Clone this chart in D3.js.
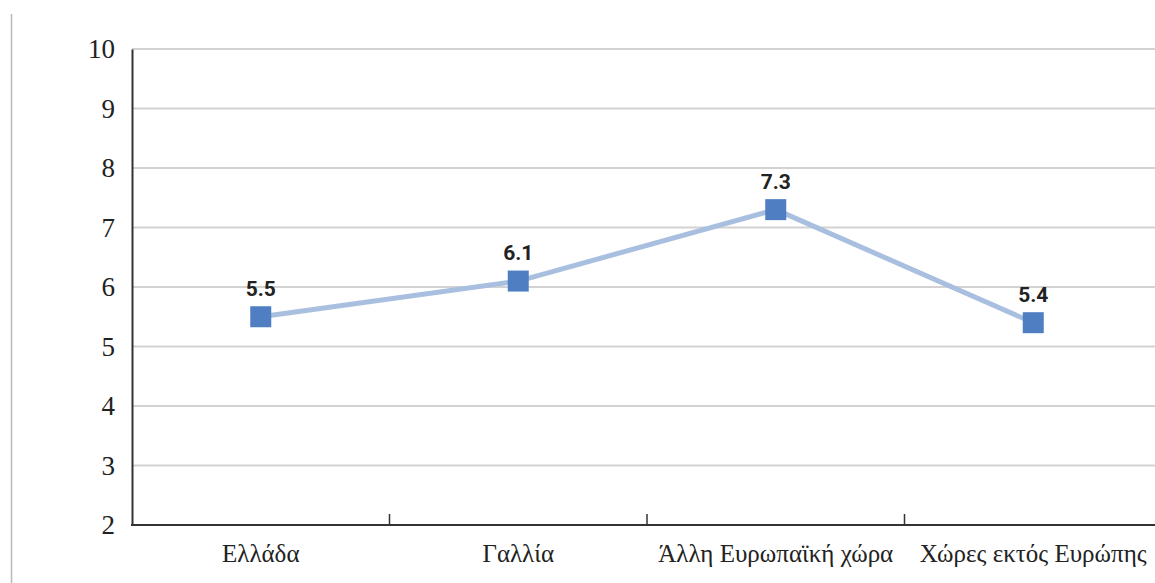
<!DOCTYPE html>
<html>
<head>
<meta charset="utf-8">
<script src="https://cdn.jsdelivr.net/npm/d3@7"></script>
<style>
  html, body { margin: 0; padding: 0; background: #fff; }
  svg { display: block; }
  .serif { font-family: "Liberation Serif", "Times New Roman", serif; }
  .val { font-family: Roboto, "Liberation Sans", sans-serif; font-weight: bold; }
</style>
</head>
<body>
<svg id="chart" width="1155" height="583"></svg>
<script>
// Chart data
const categories = ["Ελλάδα", "Γαλλία", "Άλλη Ευρωπαϊκή χώρα", "Χώρες εκτός Ευρώπης"];
const values = [5.5, 6.1, 7.3, 5.4];
const yTicks = [2, 3, 4, 5, 6, 7, 8, 9, 10];

(function () {
const svg = d3.select("#chart");
const W = 1155, H = 583;
const plotLeft = 132, plotTop = 49, plotBottom = 525;
const plotRight = plotLeft + 4 * 257.5;

// Page border on the left
svg.append("line")
  .attr("x1", 11.5).attr("x2", 11.5)
  .attr("y1", 14).attr("y2", H)
  .attr("stroke", "#b8b8b8").attr("stroke-width", 1.5);

const x = d3.scaleBand().domain(categories).range([plotLeft, plotRight]).padding(0);
const y = d3.scaleLinear().domain([2, 10]).range([plotBottom, plotTop]);

// Horizontal gridlines
svg.append("g")
  .selectAll("line")
  .data(yTicks.filter(t => t > 2))
  .join("line")
  .attr("x1", plotLeft).attr("x2", W)
  .attr("y1", d => y(d)).attr("y2", d => y(d))
  .attr("stroke", "#d2d2d2").attr("stroke-width", 2);

// Y axis
const yAxis = svg.append("g")
  .attr("transform", `translate(${plotLeft},0)`)
  .call(d3.axisLeft(y).tickValues(yTicks).tickSize(0).tickPadding(17));
yAxis.attr("font-family", null).attr("font-size", null);
yAxis.select(".domain").attr("stroke", "#333").attr("stroke-width", 2);
yAxis.selectAll("text")
  .attr("class", "serif")
  .style("font-size", "27px")
  .attr("fill", "#222");

// X axis: ticks at band boundaries, drawn upward
const xAxisG = svg.append("g").attr("transform", `translate(0,${plotBottom})`);
xAxisG.append("line")
  .attr("x1", plotLeft - 1).attr("x2", W)
  .attr("y1", 0).attr("y2", 0)
  .attr("stroke", "#333").attr("stroke-width", 2);
xAxisG.selectAll("line.tick")
  .data(categories.slice(1))
  .join("line")
  .attr("class", "tick")
  .attr("x1", d => x(d)).attr("x2", d => x(d))
  .attr("y1", 0).attr("y2", -11)
  .attr("stroke", "#333").attr("stroke-width", 1.5);
xAxisG.selectAll("text")
  .data(categories)
  .join("text")
  .attr("class", "serif")
  .attr("x", d => x(d) + x.bandwidth() / 2)
  .attr("y", 37)
  .attr("text-anchor", "middle")
  .style("font-size", "25px")
  .attr("fill", "#222")
  .text(d => d);

// Series line
const pts = categories.map((c, i) => ({ c, v: values[i] }));
const line = d3.line()
  .x(d => x(d.c) + x.bandwidth() / 2)
  .y(d => y(d.v));
svg.append("path")
  .datum(pts)
  .attr("d", line)
  .attr("fill", "none")
  .attr("stroke", "#a9bfe0")
  .attr("stroke-width", 5)
  .attr("stroke-linejoin", "round");

// Square markers
const ms = 21;
svg.append("g")
  .selectAll("rect")
  .data(pts)
  .join("rect")
  .attr("x", d => x(d.c) + x.bandwidth() / 2 - ms / 2)
  .attr("y", d => y(d.v) - ms / 2)
  .attr("width", ms).attr("height", ms)
  .attr("fill", "#4f7fc2");

// Value labels
svg.append("g")
  .selectAll("text")
  .data(pts)
  .join("text")
  .attr("class", "val")
  .attr("x", d => x(d.c) + x.bandwidth() / 2)
  .attr("y", d => y(d.v) - 21)
  .attr("text-anchor", "middle")
  .style("font-size", "21px")
  .attr("fill", "#222")
  .text(d => d.v.toFixed(1));
})();
</script>
</body>
</html>
